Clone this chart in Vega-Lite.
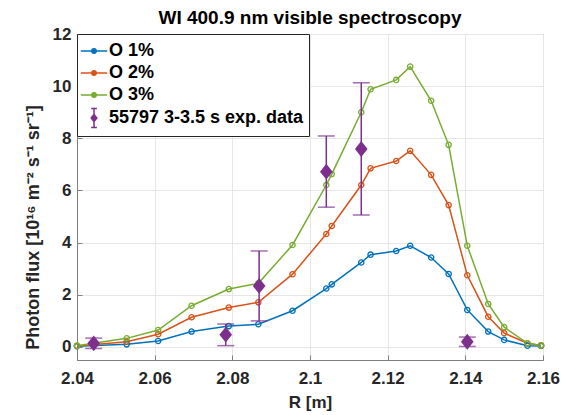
{
  "$schema": "https://vega.github.io/schema/vega-lite/v6.json",
  "autosize": {"type": "none"},
  "padding": {"left": 77, "top": 34, "right": 21, "bottom": 55},
  "width": 466,
  "height": 326,
  "title": {"text": "WI 400.9 nm visible spectroscopy", "fontSize": 19, "font": "Liberation Sans", "fontWeight": "bold", "color": "#000000", "anchor": "middle", "offset": 9, "dy": 12},
  "config": {
    "view": {"stroke": "#7f7f7f", "strokeWidth": 1},
    "axis": {
      "labelFont": "Liberation Sans", "labelFontSize": 17, "labelFontWeight": "bold", "labelColor": "#262626",
      "titleFont": "Liberation Sans", "titleFontSize": 17, "titleFontWeight": "bold", "titleColor": "#262626",
      "gridColor": "#e6e6e6", "gridWidth": 1, "domainColor": "#7f7f7f", "tickColor": "#7f7f7f", "tickSize": -5,
      "labelFlush": false, "labelOverlap": false
    }
  },
  "datasets": {
    "sim": [
      {"R": 2.04, "series": "O 1%", "flux": 0.03},
      {"R": 2.0528, "series": "O 1%", "flux": 0.1},
      {"R": 2.0609, "series": "O 1%", "flux": 0.23},
      {"R": 2.0695, "series": "O 1%", "flux": 0.59},
      {"R": 2.0791, "series": "O 1%", "flux": 0.8},
      {"R": 2.0867, "series": "O 1%", "flux": 0.87},
      {"R": 2.0955, "series": "O 1%", "flux": 1.39},
      {"R": 2.1042, "series": "O 1%", "flux": 2.24},
      {"R": 2.1056, "series": "O 1%", "flux": 2.4},
      {"R": 2.1132, "series": "O 1%", "flux": 3.24},
      {"R": 2.1156, "series": "O 1%", "flux": 3.54},
      {"R": 2.1222, "series": "O 1%", "flux": 3.68},
      {"R": 2.1258, "series": "O 1%", "flux": 3.88},
      {"R": 2.1312, "series": "O 1%", "flux": 3.43},
      {"R": 2.1357, "series": "O 1%", "flux": 2.8},
      {"R": 2.1405, "series": "O 1%", "flux": 1.42},
      {"R": 2.1459, "series": "O 1%", "flux": 0.59},
      {"R": 2.15, "series": "O 1%", "flux": 0.27},
      {"R": 2.156, "series": "O 1%", "flux": 0.05},
      {"R": 2.1595, "series": "O 1%", "flux": 0.04},
      {"R": 2.04, "series": "O 2%", "flux": 0.04},
      {"R": 2.0528, "series": "O 2%", "flux": 0.2},
      {"R": 2.0609, "series": "O 2%", "flux": 0.49},
      {"R": 2.0695, "series": "O 2%", "flux": 1.14},
      {"R": 2.0791, "series": "O 2%", "flux": 1.51},
      {"R": 2.0867, "series": "O 2%", "flux": 1.71},
      {"R": 2.0955, "series": "O 2%", "flux": 2.79},
      {"R": 2.1042, "series": "O 2%", "flux": 4.33},
      {"R": 2.1056, "series": "O 2%", "flux": 4.64},
      {"R": 2.1132, "series": "O 2%", "flux": 6.21},
      {"R": 2.1156, "series": "O 2%", "flux": 6.85},
      {"R": 2.1222, "series": "O 2%", "flux": 7.13},
      {"R": 2.1258, "series": "O 2%", "flux": 7.52},
      {"R": 2.1312, "series": "O 2%", "flux": 6.6},
      {"R": 2.1357, "series": "O 2%", "flux": 5.44},
      {"R": 2.1405, "series": "O 2%", "flux": 2.75},
      {"R": 2.1459, "series": "O 2%", "flux": 1.16},
      {"R": 2.15, "series": "O 2%", "flux": 0.53},
      {"R": 2.156, "series": "O 2%", "flux": 0.14},
      {"R": 2.1595, "series": "O 2%", "flux": 0.06},
      {"R": 2.04, "series": "O 3%", "flux": 0.05},
      {"R": 2.0528, "series": "O 3%", "flux": 0.33},
      {"R": 2.0609, "series": "O 3%", "flux": 0.65},
      {"R": 2.0695, "series": "O 3%", "flux": 1.58},
      {"R": 2.0791, "series": "O 3%", "flux": 2.22},
      {"R": 2.0867, "series": "O 3%", "flux": 2.44},
      {"R": 2.0955, "series": "O 3%", "flux": 3.91},
      {"R": 2.1042, "series": "O 3%", "flux": 6.21},
      {"R": 2.1056, "series": "O 3%", "flux": 6.63},
      {"R": 2.1132, "series": "O 3%", "flux": 9.0},
      {"R": 2.1156, "series": "O 3%", "flux": 9.88},
      {"R": 2.1222, "series": "O 3%", "flux": 10.24},
      {"R": 2.1258, "series": "O 3%", "flux": 10.75},
      {"R": 2.1312, "series": "O 3%", "flux": 9.44},
      {"R": 2.1357, "series": "O 3%", "flux": 7.75},
      {"R": 2.1405, "series": "O 3%", "flux": 3.88},
      {"R": 2.1459, "series": "O 3%", "flux": 1.65},
      {"R": 2.15, "series": "O 3%", "flux": 0.76},
      {"R": 2.156, "series": "O 3%", "flux": 0.14},
      {"R": 2.1595, "series": "O 3%", "flux": 0.06}
    ],
    "exp": [
      {"R": 2.0443, "series": "55797 3-3.5 s exp. data", "flux": 0.14, "lo": -0.06, "hi": 0.34},
      {"R": 2.0783, "series": "55797 3-3.5 s exp. data", "flux": 0.47, "lo": 0.05, "hi": 0.88},
      {"R": 2.0869, "series": "55797 3-3.5 s exp. data", "flux": 2.34, "lo": 1.0, "hi": 3.68},
      {"R": 2.1042, "series": "55797 3-3.5 s exp. data", "flux": 6.72, "lo": 5.36, "hi": 8.09},
      {"R": 2.1132, "series": "55797 3-3.5 s exp. data", "flux": 7.59, "lo": 5.06, "hi": 10.13},
      {"R": 2.1405, "series": "55797 3-3.5 s exp. data", "flux": 0.2, "lo": 0.02, "hi": 0.38}
    ]
  },
  "encoding": {
    "x": {"field": "R", "type": "quantitative", "scale": {"domain": [2.04, 2.16], "nice": false, "zero": false},
      "axis": {"title": "R [m]", "values": [2.04, 2.06, 2.08, 2.1, 2.12, 2.14, 2.16], "format": ".3~g", "labelPadding": 15, "titlePadding": 8}},
    "y": {"field": "flux", "type": "quantitative", "scale": {"domain": [-0.5, 12], "nice": false, "zero": false},
      "axis": {"title": "Photon flux [10¹⁶ m⁻² s⁻¹ sr⁻¹]", "titleFontSize": 18, "titleY": 193, "titleAnchor": "middle", "values": [0, 2, 4, 6, 8, 10, 12], "labelPadding": 11, "titlePadding": 10}},
    "color": {"field": "series", "type": "nominal",
      "scale": {"domain": ["O 1%", "O 2%", "O 3%", "55797 3-3.5 s exp. data"], "range": ["#0072BD", "#D95319", "#77AC30", "#7E2F8E"]},
      "legend": {"title": null, "orient": "top-left", "offset": 0, "strokeColor": "#262626", "fillColor": "#ffffff", "padding": 5,
        "labelFont": "Liberation Sans", "labelFontSize": 18, "labelFontWeight": "bold", "labelColor": "#000000", "labelLimit": 400,
        "symbolSize": 484, "symbolStrokeWidth": 1.5, "rowPadding": 1, "labelOffset": 3,
        "encode": {"symbols": {"update": {
          "shape": {"scale": "shape", "field": "value"},
          "fill": {"signal": "datum.value === '55797 3-3.5 s exp. data' ? '#7E2F8E' : '#ffffff'"},
          "strokeWidth": {"value": 1.5}
        }}}}
    }
  },
  "layer": [
    {"data": {"name": "sim"}, "mark": {"type": "line", "strokeWidth": 1.5}},
    {"data": {"name": "sim"}, "mark": {"type": "point", "filled": false, "size": 28, "strokeWidth": 1.3, "opacity": 1}},
    {"data": {"name": "exp"}, "mark": {"type": "rule", "strokeWidth": 1.5}, "encoding": {"y": {"field": "lo", "type": "quantitative"}, "y2": {"field": "hi"}}},
    {"data": {"name": "exp"}, "mark": {"type": "tick", "orient": "horizontal", "size": 17, "thickness": 1.5}, "encoding": {"y": {"field": "lo", "type": "quantitative"}}},
    {"data": {"name": "exp"}, "mark": {"type": "tick", "orient": "horizontal", "size": 17, "thickness": 1.5}, "encoding": {"y": {"field": "hi", "type": "quantitative"}}},
    {"data": {"name": "exp"}, "mark": {"type": "point", "filled": true, "opacity": 1, "size": 250, "shape": "M0,-1L0.8,0L0,1L-0.8,0Z"}},
    {"data": {"name": "exp"}, "transform": [{"filter": "datum.R > 100"}],
      "mark": {"type": "point", "filled": false, "opacity": 1},
      "encoding": {"shape": {"field": "series", "type": "nominal",
        "scale": {"domain": ["O 1%", "O 2%", "O 3%", "55797 3-3.5 s exp. data"],
          "range": ["M-1.2,0H-0.2M0.2,0H1.2M0.2,0A0.2,0.2 0 1,1 -0.2,0A0.2,0.2 0 1,1 0.2,0",
                    "M-1.2,0H-0.2M0.2,0H1.2M0.2,0A0.2,0.2 0 1,1 -0.2,0A0.2,0.2 0 1,1 0.2,0",
                    "M-1.2,0H-0.2M0.2,0H1.2M0.2,0A0.2,0.2 0 1,1 -0.2,0A0.2,0.2 0 1,1 0.2,0",
                    "M0,-0.87V0.87M-0.26,-0.87H0.26M-0.26,0.87H0.26M0,-0.32L0.26,0L0,0.32L-0.26,0Z"]},
        "legend": null}}}
  ]
}
